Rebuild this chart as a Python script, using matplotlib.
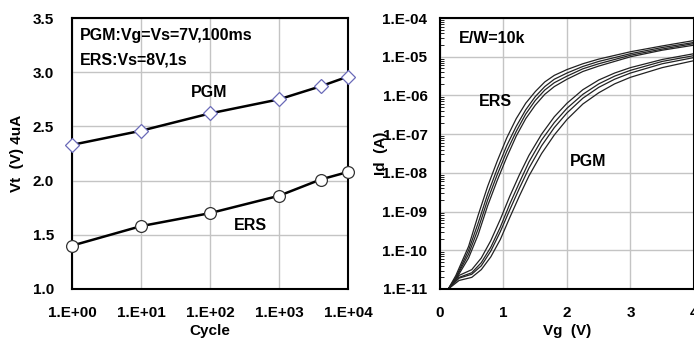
import numpy as np
import matplotlib
matplotlib.use("Agg")
import matplotlib.pyplot as plt
from matplotlib.ticker import FixedLocator, LogLocator, NullFormatter

plt.rcParams['font.family'] = ['Liberation Sans', 'DejaVu Sans']
plt.rcParams['font.weight'] = 'bold'

# --- endurance data (left panel) ---
cycles = [1, 10, 100, 1000, 4000, 10000]
vt_pgm = [2.33, 2.46, 2.62, 2.75, 2.87, 2.96]
vt_ers = [1.40, 1.58, 1.70, 1.86, 2.01, 2.08]
cycle_ticks = [1, 10, 100, 1000, 10000]
cycle_labels = ['1.E+00', '1.E+01', '1.E+02', '1.E+03', '1.E+04']

# --- Id-Vg data (right panel), log10(Id) ---
vg_ers = [0.13, 0.25, 0.45, 0.6, 0.75, 0.9, 1.05, 1.2, 1.35, 1.5, 1.65, 1.8,
          2.0, 2.25, 2.5, 3.0, 3.5, 4.0]
ers_a = [-11, -10.65, -9.9, -9.1, -8.35, -7.7, -7.1, -6.6, -6.2, -5.9, -5.65, -5.48,
         -5.33, -5.18, -5.06, -4.87, -4.72, -4.58]
ers_b = [-11, -10.7, -10.0, -9.3, -8.55, -7.9, -7.3, -6.8, -6.37, -6.03, -5.77, -5.58,
         -5.42, -5.25, -5.12, -4.92, -4.76, -4.63]
ers_c = [-11, -10.72, -10.1, -9.45, -8.7, -8.05, -7.45, -6.93, -6.48, -6.13, -5.86, -5.67,
         -5.5, -5.31, -5.18, -4.96, -4.8, -4.66]
ers_d = [-11, -10.75, -10.2, -9.6, -8.85, -8.2, -7.6, -7.05, -6.6, -6.25, -5.97, -5.77,
         -5.58, -5.38, -5.24, -5.0, -4.83, -4.7]

vg_pgm = [0.13, 0.3, 0.5, 0.65, 0.8, 0.95, 1.1, 1.25, 1.4, 1.6, 1.8, 2.0,
          2.25, 2.5, 2.75, 3.0, 3.5, 4.0]
pgm_a = [-11, -10.65, -10.5, -10.2, -9.75, -9.2, -8.6, -8.05, -7.55, -7.0, -6.55, -6.2,
         -5.85, -5.6, -5.42, -5.28, -5.07, -4.92]
pgm_b = [-11, -10.7, -10.58, -10.32, -9.92, -9.4, -8.8, -8.25, -7.72, -7.15, -6.7, -6.33,
         -5.97, -5.7, -5.5, -5.35, -5.12, -4.97]
pgm_c = [-11, -10.72, -10.62, -10.4, -10.02, -9.52, -8.95, -8.4, -7.88, -7.3, -6.83, -6.45,
         -6.07, -5.79, -5.58, -5.42, -5.18, -5.02]
pgm_d = [-11, -10.78, -10.7, -10.5, -10.17, -9.72, -9.15, -8.6, -8.08, -7.5, -7.02, -6.62,
         -6.22, -5.93, -5.7, -5.53, -5.28, -5.1]

id_ticks = [1e-11, 1e-10, 1e-9, 1e-8, 1e-7, 1e-6, 1e-5, 1e-4]
id_labels = ['1.E-11', '1.E-10', '1.E-09', '1.E-08', '1.E-07', '1.E-06', '1.E-05', '1.E-04']

FS = 11
fig = plt.figure(figsize=(6.94, 3.41), dpi=100)
grid_kw = dict(color='#c4c4c4', linewidth=1.0)

# left panel
ax1 = fig.add_axes([0.1037, 0.1525, 0.3977, 0.7945])
ax1.set_xscale('log')
ax1.set_xlim(1, 1e4)
ax1.set_ylim(1.0, 3.5)
ax1.plot(cycles, vt_pgm, '-', color='black', lw=1.8, marker='D', ms=7,
         mfc='white', mec='#6a6ab8', mew=0.9, clip_on=False, zorder=3)
ax1.plot(cycles, vt_ers, '-', color='black', lw=1.8, marker='o', ms=8.5,
         mfc='white', mec='#333333', mew=0.9, clip_on=False, zorder=3)
ax1.xaxis.set_major_locator(FixedLocator(cycle_ticks))
ax1.xaxis.set_minor_locator(FixedLocator([]))
ax1.set_xticklabels(cycle_labels)
ax1.set_yticks([1.0, 1.5, 2.0, 2.5, 3.0, 3.5])
ax1.set_yticklabels(['1.0', '1.5', '2.0', '2.5', '3.0', '3.5'])
ax1.grid(True, **grid_kw)
ax1.tick_params(length=0, labelsize=FS)
ax1.tick_params(axis='x', pad=12)
ax1.tick_params(axis='y', pad=13)
ax1.set_xlabel('Cycle', fontsize=FS, fontweight='bold', labelpad=3)
ax1.set_ylabel('Vt  (V) 4uA', fontsize=FS, fontweight='bold', labelpad=6)
for s in ax1.spines.values():
    s.set_linewidth(1.5)
ax1.text(1.3, 3.34, 'PGM:Vg=Vs=7V,100ms', fontsize=11.5, fontweight='bold', va='center')
ax1.text(1.3, 3.11, 'ERS:Vs=8V,1s', fontsize=11.5, fontweight='bold', va='center')
ax1.text(97, 2.81, 'PGM', fontsize=11.5, fontweight='bold', ha='center', va='center')
ax1.text(380, 1.59, 'ERS', fontsize=11.5, fontweight='bold', ha='center', va='center')

# right panel
ax2 = fig.add_axes([0.634, 0.1525, 0.366, 0.7945])
ax2.set_yscale('log')
ax2.set_xlim(0, 4)
ax2.set_ylim(1e-11, 1e-4)
for curve in (ers_a, ers_b, ers_c, ers_d):
    ax2.plot(vg_ers, 10.0 ** np.array(curve), color='#222222', lw=0.9)
for curve in (pgm_a, pgm_b, pgm_c, pgm_d):
    ax2.plot(vg_pgm, 10.0 ** np.array(curve), color='#222222', lw=0.9)
ax2.set_xticks([0, 1, 2, 3, 4])
ax2.set_xticklabels(['0', '1', '2', '3', '4'])
ax2.yaxis.set_major_locator(FixedLocator(id_ticks))
ax2.set_yticklabels(id_labels)
ax2.yaxis.set_minor_locator(LogLocator(base=10, subs=np.arange(2, 10), numticks=20))
ax2.yaxis.set_minor_formatter(NullFormatter())
ax2.grid(True, which='major', **grid_kw)
ax2.tick_params(axis='both', which='major', length=0, labelsize=FS)
ax2.tick_params(axis='x', pad=12)
ax2.tick_params(axis='y', which='major', pad=9)
ax2.tick_params(axis='y', which='minor', direction='in', length=3, width=0.6)
ax2.set_xlabel('Vg  (V)', fontsize=FS, fontweight='bold', labelpad=3)
ax2.set_ylabel('Id  (A)', fontsize=FS, fontweight='bold', labelpad=-4)
for s in ax2.spines.values():
    s.set_linewidth(1.5)
ax2.text(0.3, 3e-5, 'E/W=10k', fontsize=11.5, fontweight='bold', va='center')
ax2.text(0.88, 6.8e-7, 'ERS', fontsize=11.5, fontweight='bold', ha='center', va='center')
ax2.text(2.33, 2e-8, 'PGM', fontsize=11.5, fontweight='bold', ha='center', va='center')

fig.savefig('out.png', dpi=100)
